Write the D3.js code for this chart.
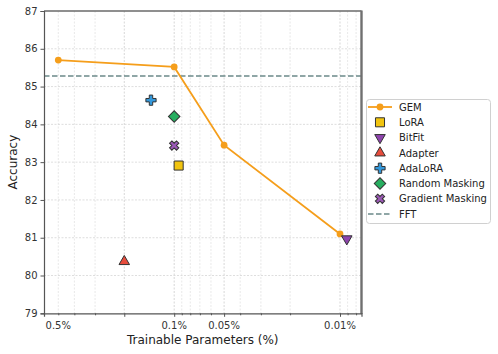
<!DOCTYPE html>
<html><head><meta charset="utf-8">
<script src="https://cdn.jsdelivr.net/npm/d3@7"></script>
<style>body{margin:0;background:#fff}svg{display:block;font-family:"DejaVu Sans",sans-serif}</style>
</head><body><svg id="c" width="498" height="354"></svg>
<script>
// ---- data ----
const gemX = [0.5, 0.1, 0.05, 0.01];
const gemY = [85.7, 85.52, 83.45, 81.1];
const baseNames = ["LoRA", "BitFit", "Adapter", "AdaLoRA", "Random Masking", "Gradient Masking"];
const baseX = [0.094, 0.0091, 0.2, 0.138, 0.1, 0.1];
const baseY = [82.91, 80.97, 80.37, 84.64, 84.21, 83.44];
const fftY = 85.28;
const xTickVals = [0.5, 0.1, 0.05, 0.01];
const xTickLabels = ["0.5%", "0.1%", "0.05%", "0.01%"];
const xMajorTicks = [0.2, 0.1, 0.05, 0.01];
const yTicks = [79, 80, 81, 82, 83, 84, 85, 86, 87];

// ---- styles ----
const baseColors = ["#f1c40f", "#8e44ad", "#e74c3c", "#3498db", "#27ae60", "#9b59b6"];
const baseShapes = ["square", "tridown", "triup", "plus", "diamond", "x"];
const gemColor = "#f59e1b";
const fftColor = "#6b8989";

const svg = d3.select("#c");
const L = 44, R = 361.5, T = 11, B = 313.3;
const x = d3.scaleLog().domain([0.6097, 0.00742]).range([L, R]);
const y = d3.scaleLinear().domain([79, 87]).range([B, T]);

function sym(shape) {
  switch (shape) {
    case "square": return {p: d3.symbol(d3.symbolSquare, 82)(), r: 0};
    case "triup": return {p: d3.symbol(d3.symbolTriangle, 48)(), r: 0};
    case "tridown": return {p: d3.symbol(d3.symbolTriangle, 48)(), r: 180};
    case "plus": return {p: d3.symbol(d3.symbolCross, 58)(), r: 0};
    case "diamond": return {p: d3.symbol(d3.symbolSquare, 66)(), r: 45};
    case "x": return {p: d3.symbol(d3.symbolCross, 54)(), r: 45};
  }
}

// grid
const g = svg.append("g");
const allX = x.ticks().filter(v => v < 0.6 && v > 0.0075);
g.selectAll("line.vx").data(allX).join("line")
  .attr("x1", d => x(d)).attr("x2", d => x(d)).attr("y1", T).attr("y2", B)
  .attr("stroke", d => xMajorTicks.some(m => Math.abs(m - d) / m < 1e-6) ? "#cdcdcd" : "#e2e2e2")
  .attr("stroke-width", 0.8).attr("stroke-dasharray", "2,1.5");
g.selectAll("line.hy").data(yTicks.slice(1, -1)).join("line")
  .attr("x1", L).attr("x2", R).attr("y1", d => y(d)).attr("y2", d => y(d))
  .attr("stroke", "#d6d6d6").attr("stroke-width", 0.8).attr("stroke-dasharray", "2,1.5");

// FFT
svg.append("line").attr("x1", L).attr("x2", R).attr("y1", y(fftY)).attr("y2", y(fftY))
  .attr("stroke", fftColor).attr("stroke-width", 1.5).attr("stroke-dasharray", "5.5,2.5");

// GEM
const gem = gemX.map((v, i) => [v, gemY[i]]);
svg.append("path").datum(gem)
  .attr("d", d3.line().x(d => x(d[0])).y(d => y(d[1])))
  .attr("fill", "none").attr("stroke", gemColor).attr("stroke-width", 1.8);
svg.selectAll("circle.gem").data(gem).join("circle")
  .attr("cx", d => x(d[0])).attr("cy", d => y(d[1])).attr("r", 3.4).attr("fill", gemColor);

// baselines
baseNames.forEach((n, i) => {
  const s = sym(baseShapes[i]);
  svg.append("path").attr("d", s.p)
    .attr("transform", `translate(${x(baseX[i])},${y(baseY[i])}) rotate(${s.r})`)
    .attr("fill", baseColors[i]).attr("stroke", "#333").attr("stroke-width", 1);
});

// spines
svg.append("line").attr("x1", L).attr("x2", R).attr("y1", T).attr("y2", T).attr("stroke", "#6a6a6a").attr("stroke-width", 1.3);
svg.append("line").attr("x1", R).attr("x2", R).attr("y1", T - 0.6).attr("y2", B + 0.6).attr("stroke", "#707070").attr("stroke-width", 2.4);

// axes
const yAxis = d3.axisLeft(y).tickValues(yTicks).tickSize(3.5).tickPadding(3);
const ya = svg.append("g").attr("transform", `translate(${L},0)`).call(yAxis);
ya.select(".domain").attr("stroke", "#555").attr("stroke-width", 1.2);
ya.selectAll(".tick line").attr("stroke", "#555");
ya.selectAll("text").attr("font-size", 10).attr("fill", "#333").attr("font-family", "DejaVu Sans");

const minorX = allX.filter(v => !xMajorTicks.some(m => Math.abs(m - v) / m < 1e-6));
const xm = svg.append("g").attr("transform", `translate(0,${B})`)
  .call(d3.axisBottom(x).tickValues(minorX).tickSize(2).tickFormat(""));
xm.select(".domain").remove();
xm.selectAll(".tick line").attr("stroke", "#555");
const xM = svg.append("g").attr("transform", `translate(0,${B})`)
  .call(d3.axisBottom(x).tickValues(xMajorTicks).tickSize(3.5).tickFormat(""));
xM.select(".domain").attr("stroke", "#555").attr("stroke-width", 1.2);
xM.selectAll(".tick line").attr("stroke", "#555");
svg.selectAll("text.xl").data(xTickVals).join("text")
  .attr("x", d => x(d)).attr("y", B + 16).attr("text-anchor", "middle")
  .attr("font-size", 10).attr("fill", "#333").text((d, i) => xTickLabels[i]);

svg.append("text").attr("x", (L + R) / 2).attr("y", 344).attr("text-anchor", "middle")
  .attr("font-size", 12).attr("fill", "#222").text("Trainable Parameters (%)");
svg.append("text").attr("transform", `translate(17,${(T + B) / 2}) rotate(-90)`).attr("text-anchor", "middle")
  .attr("font-size", 12).attr("fill", "#222").text("Accuracy");

// legend
const lg = svg.append("g");
lg.append("rect").attr("x", 366.5).attr("y", 99.5).attr("width", 124).attr("height", 124).attr("rx", 3)
  .attr("fill", "#fff").attr("stroke", "#d0d0d0").attr("stroke-width", 1);
const rowY = i => 107 + i * 15.3;
const items = ["GEM", ...baseNames, "FFT"];
items.forEach((n, i) => {
  const cy = rowY(i), cx = 380;
  if (i === 0) {
    lg.append("line").attr("x1", 368).attr("x2", 392).attr("y1", cy).attr("y2", cy).attr("stroke", gemColor).attr("stroke-width", 1.8);
    lg.append("circle").attr("cx", cx).attr("cy", cy).attr("r", 3.4).attr("fill", gemColor);
  } else if (i === items.length - 1) {
    lg.append("line").attr("x1", 368).attr("x2", 392).attr("y1", cy).attr("y2", cy).attr("stroke", fftColor).attr("stroke-width", 1.5).attr("stroke-dasharray", "5.5,2.5");
  } else {
    const s = sym(baseShapes[i - 1]);
    lg.append("path").attr("d", s.p).attr("transform", `translate(${cx},${cy}) rotate(${s.r})`)
      .attr("fill", baseColors[i - 1]).attr("stroke", "#333").attr("stroke-width", 1);
  }
  lg.append("text").attr("x", 399).attr("y", cy + 3.6).attr("font-size", 10).attr("fill", "#222").text(n);
});
</script></body></html>
